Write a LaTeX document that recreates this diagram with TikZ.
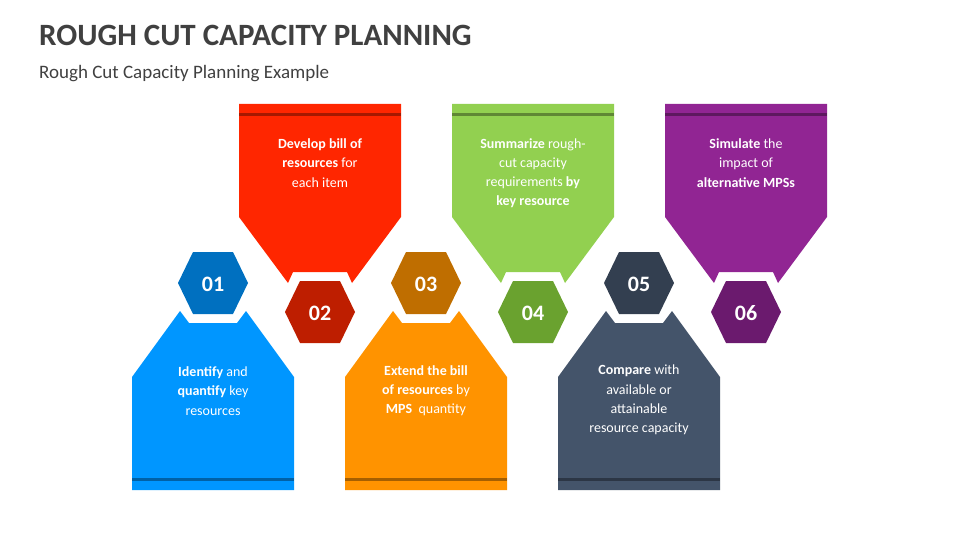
\documentclass[tikz,border=0pt]{standalone}
\usepackage{fontspec}
\setmainfont{Carlito}
\usepackage{tikz}

\definecolor{cBlue}{HTML}{0096FF}\definecolor{hBlue}{HTML}{0070C0}
\definecolor{cRed}{HTML}{FF2600}\definecolor{hRed}{HTML}{BE1E00}
\definecolor{cOrange}{HTML}{FF9300}\definecolor{hOrange}{HTML}{BF6E00}
\definecolor{cGreen}{HTML}{92D050}\definecolor{hGreen}{HTML}{6AA22F}
\definecolor{cSlate}{HTML}{44546A}\definecolor{hSlate}{HTML}{333F50}
\definecolor{cPurple}{HTML}{912593}\definecolor{hPurple}{HTML}{6B1A6E}
\definecolor{titlegray}{HTML}{404040}

\begin{document}
\begin{tikzpicture}[x=1pt, y=-1pt,
  every node/.style={inner sep=0pt},
  steptext/.style={text=white, align=center, font=\fontsize{14}{19.2}\selectfont},
  hexnum/.style={text=white, font=\bfseries\fontsize{22}{24}\selectfont}]
\useasboundingbox (0,0) rectangle (960,540);
\node[anchor=west, text=titlegray, font=\bfseries\fontsize{31}{34}\selectfont] (T) at (39,35) {ROUGH CUT CAPACITY PLANNING};
\node[anchor=west, text=titlegray, font=\fontsize{19}{22}\selectfont] (S) at (39,74) {Rough Cut Capacity Planning Example};
% lower boxes
\foreach \cx/\c in {213/Blue, 426/Orange, 639/Slate} {
  \fill[c\c] (\cx-81,377) -- (\cx-33,311) -- (\cx-24,323) -- (\cx+24,323) -- (\cx+33,311)
    -- (\cx+81,377) -- (\cx+81,490) -- (\cx-81,490) -- cycle;
  \fill[black, opacity=.35] (\cx-81,478) rectangle (\cx+81,481);
}
% upper boxes
\foreach \cx/\c in {320/Red, 533/Green, 746/Purple} {
  \fill[c\c] (\cx-81,104) -- (\cx+81,104) -- (\cx+81,217) -- (\cx+32,283) -- (\cx+27,272)
    -- (\cx-27,272) -- (\cx-32,283) -- (\cx-81,217) -- cycle;
  \fill[black, opacity=.35] (\cx-81,113) rectangle (\cx+81,116);
}
% hexagons
\foreach \cx/\cy/\c/\n in {213/283/Blue/01, 320/312/Red/02, 426/283/Orange/03,
                          533/312/Green/04, 639/283/Slate/05, 746/312/Purple/06} {
  \fill[h\c] (\cx-35,\cy) -- (\cx-20,\cy-31) -- (\cx+20,\cy-31) -- (\cx+35,\cy)
    -- (\cx+20,\cy+31) -- (\cx-20,\cy+31) -- cycle;
  \node[hexnum] (H\n) at (\cx,\cy+1) {\n};
}
\node[steptext] (B1) at (213,391) {\textbf{Identify} and\\\textbf{quantify} key\\resources};
\node[steptext] (B2) at (320,163) {\textbf{Develop bill of}\\\textbf{resources} for\\each item};
\node[steptext] (B3) at (426,391) {\textbf{Extend the bill}\\\textbf{of resources} by\\\textbf{MPS}\ \ quantity};
\node[steptext] (B4) at (533,173) {\textbf{Summarize} rough-\\cut capacity\\requirements \textbf{by}\\\textbf{key resource}};
\node[steptext] (B5) at (639,400) {\textbf{Compare} with\\available or\\attainable\\resource capacity};
\node[steptext] (B6) at (746,163) {\textbf{Simulate} the\\impact of\\\textbf{alternative MPSs}};
\end{tikzpicture}
\end{document}
